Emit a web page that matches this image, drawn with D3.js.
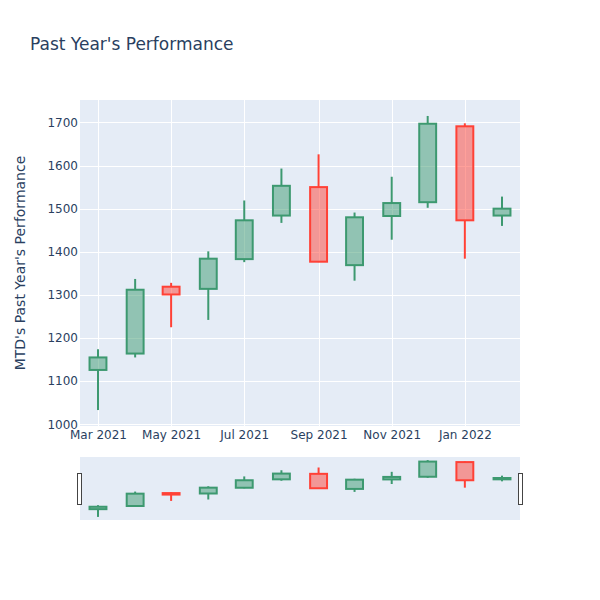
<!DOCTYPE html>
<html>
<head>
<meta charset="utf-8">
<script src="https://cdn.jsdelivr.net/npm/d3@7"></script>
<style>
  body { margin: 0; background: #fff; }
  svg { display: block; font-family: "DejaVu Sans", Verdana, sans-serif; }
  svg text { font-family: "DejaVu Sans", Verdana, sans-serif; }
</style>
</head>
<body>
<svg id="chart" width="600" height="600"></svg>
<script>
// ---- Data ----
const dates = ["2021-03-01","2021-04-01","2021-05-01","2021-06-01","2021-07-01","2021-08-01",
               "2021-09-01","2021-10-01","2021-11-01","2021-12-01","2022-01-01","2022-02-01"];
const openV  = [1126, 1164, 1319, 1314, 1383, 1484, 1550, 1369, 1483, 1515, 1691, 1484];
const highV  = [1174, 1337, 1328, 1401, 1519, 1593, 1626, 1491, 1574, 1715, 1698, 1528];
const lowV   = [1033, 1155, 1225, 1242, 1376, 1467, 1376, 1333, 1428, 1502, 1384, 1460];
const closeV = [1155, 1312, 1301, 1384, 1473, 1553, 1377, 1480, 1513, 1697, 1473, 1500];
const yTicks = [1000, 1100, 1200, 1300, 1400, 1500, 1600, 1700];
const xTickDates = ["2021-03-01","2021-05-01","2021-07-01","2021-09-01","2021-11-01","2022-01-01"];
const title = "Past Year's Performance";
const yTitle = "MTD's Past Year's Performance";

const parse = d3.utcParse("%Y-%m-%d");
const data = dates.map((d, i) => ({
  date: parse(d), open: openV[i], high: highV[i], low: lowV[i], close: closeV[i]
}));

const svg = d3.select("#chart");
const L = 80, R = 520, T = 100, B = 426;
const sT = 457, sB = 520;
const textColor = "#2a3f5f";
const bg = "#E5ECF6";
const incColor = "#3D9970", decColor = "#FF4136";

const x = d3.scaleUtc()
  .domain([Date.UTC(2021, 1, 14), Date.UTC(2022, 1, 16)])
  .range([L, R]);
const y = d3.scaleLinear().domain([996, 1752]).range([B, T]);
const ys = d3.scaleLinear().domain([996, 1752]).range([sB, sT]);

// title
svg.append("text").attr("x", 30).attr("y", 50)
  .attr("font-size", 17).attr("fill", textColor).text(title);

// main background
svg.append("rect").attr("x", L).attr("y", T).attr("width", R - L).attr("height", B - T).attr("fill", bg);

// grid
const xTicks = xTickDates.map(parse);
svg.append("g").selectAll("line").data(xTicks).join("line")
  .attr("x1", d => Math.round(x(d)) + 0.5).attr("x2", d => Math.round(x(d)) + 0.5)
  .attr("y1", T).attr("y2", B).attr("stroke", "#fff").attr("stroke-width", 1);
svg.append("g").selectAll("line").data(yTicks).join("line")
  .attr("x1", L).attr("x2", R)
  .attr("y1", d => Math.round(y(d)) + 0.5).attr("y2", d => Math.round(y(d)) + 0.5)
  .attr("stroke", "#fff").attr("stroke-width", 1);

// axes
const yAxis = d3.axisLeft(y).tickValues(yTicks).tickSize(0).tickPadding(2).tickFormat(d3.format("d"));
const gy = svg.append("g").attr("transform", `translate(${L},0)`).call(yAxis)
  .attr("font-family", null).attr("font-size", 12);
gy.select(".domain").remove();
gy.selectAll("text").attr("fill", textColor);

const xAxis = d3.axisBottom(x).tickValues(xTicks).tickSize(0).tickPadding(4).tickFormat(d3.utcFormat("%b %Y"));
const gx = svg.append("g").attr("transform", `translate(0,${B})`).call(xAxis)
  .attr("font-family", null).attr("font-size", 12);
gx.select(".domain").remove();
gx.selectAll("text").attr("fill", textColor);

// y title
svg.append("text")
  .attr("transform", `translate(25,${(T + B) / 2}) rotate(-90)`)
  .attr("text-anchor", "middle").attr("font-size", 14).attr("fill", textColor)
  .text(yTitle);

// candle width from spacing
let minGap = Infinity;
for (let i = 1; i < data.length; i++) minGap = Math.min(minGap, x(data[i].date) - x(data[i - 1].date));
const bw = minGap * 0.47;

function drawCandles(g, ysc, lw) {
  const c = g.selectAll("g.c").data(data).join("g").attr("class", "c");
  const col = d => d.close >= d.open ? incColor : decColor;
  c.append("line")
    .attr("x1", d => x(d.date)).attr("x2", d => x(d.date))
    .attr("y1", d => ysc(d.high)).attr("y2", d => ysc(Math.max(d.open, d.close)))
    .attr("stroke", col).attr("stroke-width", lw);
  c.append("line")
    .attr("x1", d => x(d.date)).attr("x2", d => x(d.date))
    .attr("y1", d => ysc(Math.min(d.open, d.close))).attr("y2", d => ysc(d.low))
    .attr("stroke", col).attr("stroke-width", lw);
  c.append("rect")
    .attr("x", d => x(d.date) - bw / 2)
    .attr("y", d => ysc(Math.max(d.open, d.close)))
    .attr("width", bw)
    .attr("height", d => Math.max(0.5, Math.abs(ysc(d.open) - ysc(d.close))))
    .attr("fill", col).attr("fill-opacity", 0.5)
    .attr("stroke", col).attr("stroke-width", lw);
}

// clip
svg.append("clipPath").attr("id", "clipMain").append("rect")
  .attr("x", L).attr("y", T).attr("width", R - L).attr("height", B - T);
drawCandles(svg.append("g").attr("clip-path", "url(#clipMain)"), y, 2);

// range slider
svg.append("rect").attr("x", L).attr("y", sT).attr("width", R - L).attr("height", sB - sT).attr("fill", bg);
svg.append("clipPath").attr("id", "clipSl").append("rect")
  .attr("x", L).attr("y", sT).attr("width", R - L).attr("height", sB - sT);
drawCandles(svg.append("g").attr("clip-path", "url(#clipSl)"), ys, 2);

// handles
const hy = (sT + sB) / 2 - 16 + 1;
[L - 2.5, R - 1.5].forEach(hx => {
  svg.append("rect").attr("x", hx).attr("y", hy).attr("width", 4).attr("height", 31)
    .attr("fill", "#fff").attr("stroke", "#444").attr("stroke-width", 1);
});
</script>
</body>
</html>
